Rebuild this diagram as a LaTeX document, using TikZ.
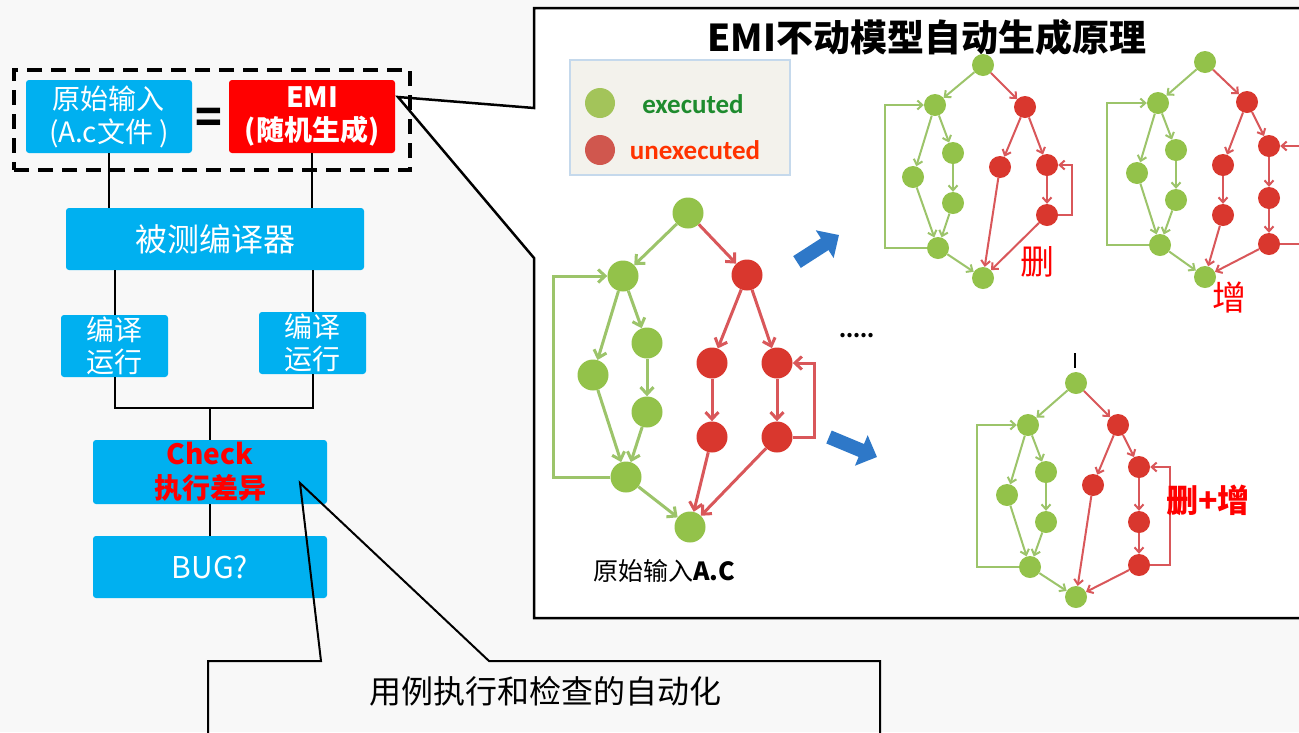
\documentclass[tikz,border=0pt]{standalone}
\usepackage{fontspec}
\setmainfont{Noto Sans CJK SC}
\newfontfamily\calib{Carlito}
\usetikzlibrary{arrows.meta}
\definecolor{bgc}{HTML}{F8F8F8}
\definecolor{cyanbox}{HTML}{00B0F0}
\definecolor{redbox}{HTML}{FF0000}
\definecolor{gnode}{HTML}{93C24A}
\definecolor{rnode}{HTML}{D9372E}
\definecolor{gedgec}{HTML}{9CC46A}
\definecolor{redgec}{HTML}{D9575A}
\definecolor{blarrow}{HTML}{2E78C8}
\definecolor{leggreen}{HTML}{1E8B2E}
\definecolor{legred}{HTML}{FF3300}
\definecolor{legbg}{HTML}{F3F2EC}
\definecolor{legborder}{HTML}{C5D9EC}
\definecolor{legr}{HTML}{D0574E}
\definecolor{legg}{HTML}{A3C45A}
\newcommand\fsz[2]{\fontsize{#1}{#2}\selectfont}
\begin{document}
\begin{tikzpicture}[x=1pt,y=-1pt,
  box/.style={fill=cyanbox, rounded corners=3, inner sep=0, text=white, align=center},
  gbig/.style={circle, fill=gnode, minimum size=31, inner sep=0},
  rbig/.style={circle, fill=rnode, minimum size=31, inner sep=0},
  gsm/.style={circle, fill=gnode, minimum size=22, inner sep=0},
  rsm/.style={circle, fill=rnode, minimum size=22, inner sep=0},
  geb/.style={draw=gedgec, line width=3, -{Straight Barb[length=7pt,width=13pt]}},
  reb/.style={draw=redgec, line width=3, -{Straight Barb[length=7pt,width=13pt]}},
  ges/.style={draw=gedgec, line width=2, -{Straight Barb[length=5pt,width=9pt]}},
  res/.style={draw=redgec, line width=2, -{Straight Barb[length=5pt,width=9pt]}},
  conn/.style={draw=black, line width=2},
  bluearr/.style={draw=blarrow, line width=14, -{Triangle[length=17pt,width=32pt]}},
  redlabel/.style={text=red, inner sep=0}
]
\useasboundingbox (0,0) rectangle (1299,732);
\fill[bgc] (0,0) rectangle (1299,732);

% ---------------- right panel (callout) ----------------
\coordinate (tipE) at (398,97);
\filldraw[fill=white, draw=black, line width=2.5] (534,258) -- (tipE) -- (534,108) -- (534,8) -- (1310,8) -- (1310,618) -- (534,618) -- cycle;
\node[font=\fsz{37}{42}\bfseries, inner sep=0] (title) at (927,37) {EMI不动模型自动生成原理};

% legend
\node[draw=legborder, fill=legbg, line width=1.5, minimum width=220, minimum height=115, inner sep=0] (legend) at (680,117.5) {};
\node[circle, fill=legg, minimum size=30, inner sep=0] (lg) at (600,103) {};
\node[circle, fill=legr, minimum size=30, inner sep=0] (lr) at (600,150) {};
\node[font=\calib\bfseries\fsz{27}{30}, text=leggreen, inner sep=0] (lgt) at (693,104) {executed};
\node[font=\calib\bfseries\fsz{27}{30}, text=legred, inner sep=0] (lrt) at (695,150) {unexecuted};

% ---------------- main graph ----------------
\node[gbig] (a0) at (688,213) {};
\node[gbig] (a1) at (623,276) {};
\node[rbig] (a2) at (747,275) {};
\node[gbig] (a3) at (593,375) {};
\node[gbig] (a4) at (647,343) {};
\node[gbig] (a5) at (647,412) {};
\node[gbig] (a6) at (626,477) {};
\node[gbig] (a7) at (690,527) {};
\node[rbig] (a8) at (712,363) {};
\node[rbig] (a9) at (712,437) {};
\node[rbig] (a10) at (777,363) {};
\node[rbig] (a11) at (777,437) {};
\coordinate (aL) at (553,0);
\coordinate (aR) at (814,0);
\draw[geb] (a0) -- (a1);
\draw[geb] (a1) -- (a3);
\draw[geb] (a1) -- (a4);
\draw[geb] (a4) -- (a5);
\draw[geb] (a3) -- (a6);
\draw[geb] (a5) -- (a6);
\draw[geb] (a6) -- (a7);
\draw[geb] (a6.west) -- (a6.west -| aL) -- (a1.west -| aL) -- (a1.west);
\draw[reb] (a0) -- (a2);
\draw[reb] (a2) -- (a8);
\draw[reb] (a2) -- (a10);
\draw[reb] (a8) -- (a9);
\draw[reb] (a10) -- (a11);
\draw[reb] (a9) -- (a7);
\draw[reb] (a11) -- (a7);
\draw[reb] (a11.east) -- (a11.east -| aR) -- (a10.east -| aR) -- (a10.east);
\node[font=\fsz{25}{28}, inner sep=0] (alabel) at (664,571) {原始输入\textbf{A.C}};

% blue arrows and dots
\coordinate (ba1s) at (797,262);
\coordinate (ba1e) at (839,235);
\coordinate (ba2s) at (829,437);
\coordinate (ba2e) at (877,457);
\draw[bluearr] (ba1s) -- (ba1e);
\draw[bluearr] (ba2s) -- (ba2e);
\node[font=\fsz{20}{24}\bfseries, inner sep=0] (dots) at (857,336) {.....};

% ---------------- graph b (delete) ----------------
\node[gsm] (b0) at (983,65) {};
\node[gsm] (b1) at (935,105) {};
\node[rsm] (b2) at (1025,107) {};
\node[gsm] (b3) at (913,177) {};
\node[gsm] (b4) at (953,153) {};
\node[gsm] (b5) at (953,203) {};
\node[gsm] (b6) at (938,248) {};
\node[gsm] (b7) at (983,278) {};
\node[rsm] (b8) at (1000,167) {};
\node[rsm] (b9) at (1047,165) {};
\node[rsm] (b10) at (1047,215) {};
\coordinate (bL) at (885,0);
\coordinate (bR) at (1072,0);
\draw[ges] (b0) -- (b1);
\draw[ges] (b1) -- (b3);
\draw[ges] (b1) -- (b4);
\draw[ges] (b4) -- (b5);
\draw[ges] (b3) -- (b6);
\draw[ges] (b5) -- (b6);
\draw[ges] (b6) -- (b7);
\draw[ges] (b6.west) -- (b6.west -| bL) -- (b1.west -| bL) -- (b1.west);
\draw[res] (b0) -- (b2);
\draw[res] (b2) -- (b8);
\draw[res] (b2) -- (b9);
\draw[res] (b9) -- (b10);
\draw[res] (b8) -- (b7);
\draw[res] (b10) -- (b7);
\draw[res] (b10.east) -- (b10.east -| bR) -- (b9.east -| bR) -- (b9.east);
\node[redlabel, font=\fsz{34}{38}] (blabel) at (1037,262) {删};

% ---------------- graph c (add) ----------------
\node[gsm] (c0) at (1205,62) {};
\node[gsm] (c1) at (1158,103) {};
\node[rsm] (c2) at (1247,102) {};
\node[gsm] (c3) at (1137,173) {};
\node[gsm] (c4) at (1176,150) {};
\node[gsm] (c5) at (1176,200) {};
\node[gsm] (c6) at (1160,245) {};
\node[gsm] (c7) at (1205,277) {};
\node[rsm] (c8) at (1223,165) {};
\node[rsm] (c9) at (1223,215) {};
\node[rsm] (c10) at (1269,146) {};
\node[rsm] (c11) at (1269,198) {};
\node[rsm] (c12) at (1269,244) {};
\coordinate (cL) at (1107,0);
\coordinate (cR) at (1302,0);
\draw[ges] (c0) -- (c1);
\draw[ges] (c1) -- (c3);
\draw[ges] (c1) -- (c4);
\draw[ges] (c4) -- (c5);
\draw[ges] (c3) -- (c6);
\draw[ges] (c5) -- (c6);
\draw[ges] (c6) -- (c7);
\draw[ges] (c6.west) -- (c6.west -| cL) -- (c1.west -| cL) -- (c1.west);
\draw[res] (c0) -- (c2);
\draw[res] (c2) -- (c8);
\draw[res] (c2) -- (c10);
\draw[res] (c8) -- (c9);
\draw[res] (c9) -- (c7);
\draw[res] (c10) -- (c11);
\draw[res] (c11) -- (c12);
\draw[res] (c12) -- (c7);
\draw[res] (c12.east) -- (c12.east -| cR) -- (c10.east -| cR) -- (c10.east);
\node[redlabel, font=\fsz{34}{38}] (clabel) at (1229,297) {增};

% ---------------- graph d (delete + add) ----------------
\node[gsm] (d0) at (1076,383) {};
\node[gsm] (d1) at (1028,425) {};
\node[rsm] (d2) at (1118,425) {};
\node[gsm] (d3) at (1007,495) {};
\node[gsm] (d4) at (1046,472) {};
\node[gsm] (d5) at (1046,522) {};
\node[gsm] (d6) at (1030,567) {};
\node[gsm] (d7) at (1076,597) {};
\node[rsm] (d8) at (1093,485) {};
\node[rsm] (d9) at (1139,467) {};
\node[rsm] (d10) at (1139,522) {};
\node[rsm] (d11) at (1139,565) {};
\coordinate (dL) at (977,0);
\coordinate (dR) at (1170,0);
\coordinate (tickA) at (1075,353);
\coordinate (tickB) at (1075,368);
\draw[line width=1.5] (tickA) -- (tickB);
\draw[ges] (d0) -- (d1);
\draw[ges] (d1) -- (d3);
\draw[ges] (d1) -- (d4);
\draw[ges] (d4) -- (d5);
\draw[ges] (d3) -- (d6);
\draw[ges] (d5) -- (d6);
\draw[ges] (d6) -- (d7);
\draw[ges] (d6.west) -- (d6.west -| dL) -- (d1.west -| dL) -- (d1.west);
\draw[res] (d0) -- (d2);
\draw[res] (d2) -- (d8);
\draw[res] (d2) -- (d9);
\draw[res] (d9) -- (d10);
\draw[res] (d10) -- (d11);
\draw[res] (d8) -- (d7);
\draw[res] (d11) -- (d7);
\draw[res] (d11.east) -- (d11.east -| dR) -- (d9.east -| dR) -- (d9.east);
\node[redlabel, font=\fsz{32}{36}\bfseries] (dlabel) at (1208,500) {删+增};

% ---------------- left flow ----------------
\node[draw=black, line width=4.5, dash pattern=on 15pt off 9pt, minimum width=396, minimum height=100, inner sep=0] (dbox) at (212,120) {};
\node[box, minimum width=166, minimum height=73, font=\fsz{28}{33}] (src) at (109,116.5) {原始输入\\(A.c文件 )};
\node[box, fill=redbox, minimum width=166, minimum height=73, font=\fsz{28}{33}\bfseries] (emi) at (312,116.5) {EMI\\(随机生成)};
\node[font=\fsz{44}{48}\bfseries, inner sep=0] (eq) at (209,121) {=};
\node[box, minimum width=298, minimum height=62, font=\fsz{32}{36}] (comp) at (215,239) {被测编译器};
\node[box, minimum width=107, minimum height=62, font=\fsz{28}{32}] (run1) at (114.5,346) {编译\\运行};
\node[box, minimum width=107, minimum height=62, font=\fsz{28}{32}] (run2) at (312.5,343) {编译\\运行};
\node[box, minimum width=234, minimum height=64, text=red, font=\fsz{28}{34}\bfseries] (check) at (210,472) {Check\\执行差异};
\node[box, minimum width=234, minimum height=62, font=\fsz{30}{34}] (bug) at (210,567) {BUG?};
\coordinate (join) at (210,408);
\draw[conn] (src.south) -- (src.south |- comp.north);
\draw[conn] (emi.south) -- (emi.south |- comp.north);
\draw[conn] (comp.south -| run1.north) -- (run1.north);
\draw[conn] (comp.south -| run2.north) -- (run2.north);
\draw[conn] (run1.south) |- (join) -| (run2.south);
\draw[conn] (join) -- (check.north);
\draw[conn] (check.south) -- (bug.north);

% ---------------- bottom callout ----------------
\coordinate (tipC) at (300,483);
\draw[line width=2] (208,740) -- (208,661) -- (321,661) -- (tipC) -- (489,661) -- (880,661) -- (880,740);
\node[font=\fsz{32}{36}, inner sep=0] (ctext) at (545,691) {用例执行和检查的自动化};
\end{tikzpicture}
\end{document}
